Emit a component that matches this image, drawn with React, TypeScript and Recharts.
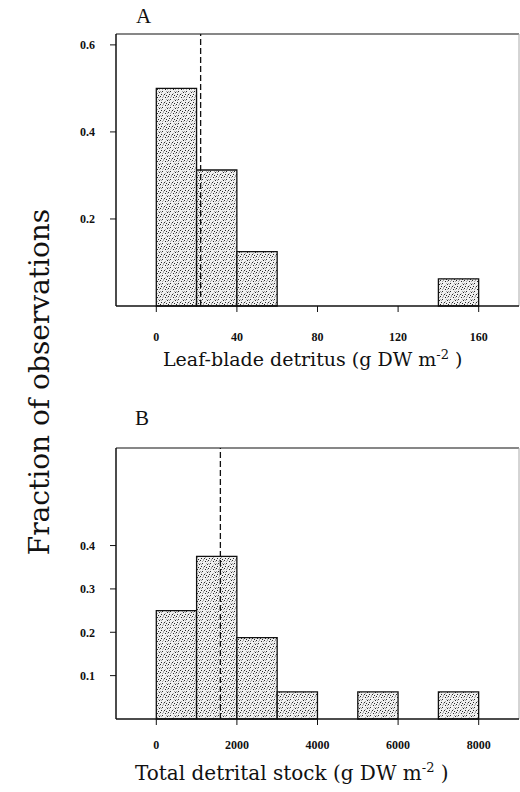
import React from 'react'
import { BarChart, Bar, XAxis, YAxis, ReferenceLine } from 'recharts'

// Panel A: leaf-blade detritus, bins of 20 g DW m-2 (lower edges)
const leafBins = [-20, 0, 20, 40, 60, 80, 100, 120, 140, 160]
const leafFraction = [null, 0.5, 0.3125, 0.125, null, null, null, null, 0.0625, null]
const leafXTicks = [0, 40, 80, 120, 160]
const leafYTicks = [0.2, 0.4, 0.6]
const leafMarker = 22

// Panel B: total detrital stock, bins of 1000 g DW m-2 (lower edges)
const stockBins = [-1000, 0, 1000, 2000, 3000, 4000, 5000, 6000, 7000, 8000]
const stockFraction = [null, 0.25, 0.375, 0.1875, 0.0625, null, 0.0625, null, 0.0625, null]
const stockXTicks = [0, 2000, 4000, 6000, 8000]
const stockYTicks = [0.1, 0.2, 0.3, 0.4]
const stockMarker = 1590

const Y_MAX = 0.625
const CHART_W = 520
const PLOT_LEFT = 116
const PLOT_RIGHT = 1

const tickStyle = { fontFamily: 'Liberation Serif', fontWeight: 700, fontSize: 12, fill: '#111' }
const labelFont = 'DejaVu Serif'

// speckle layout of the 8x8 fill tile
const darkDots = [[0, 0], [5, 1], [2, 3], [7, 4], [4, 6], [1, 6], [6, 7]]
const greyDots = [[3, 0], [6, 3], [1, 4], [5, 5], [7, 1], [2, 1], [3, 7], [0, 3]]

interface PanelProps {
    id: string
    bins: number[]
    values: (number | null)[]
    xTicks: number[]
    yTicks: number[]
    marker: number
    height: number
    top: number
    bottom: number
    xTickMargin: number
}

function Panel({ id, bins, values, xTicks, yTicks, marker, height, top, bottom, xTickMargin }: PanelProps) {
    const step = bins[1] - bins[0]
    const lo = bins[0]
    const hi = bins[bins.length - 1] + step
    const data = bins.map((b, i) => ({ mid: b + step / 2, frac: values[i] }))
    // a hair under the bin width, otherwise recharts shrinks bars to 90%
    const barSize = ((CHART_W - PLOT_LEFT - PLOT_RIGHT) / bins.length) * 0.999
    return (
        <BarChart
            width={CHART_W}
            height={height}
            data={data}
            margin={{ top, right: PLOT_RIGHT, bottom, left: PLOT_LEFT - 60 }}
            barCategoryGap={0}
            barGap={0}
        >
            <defs>
                <pattern id={`stipple-${id}`} width={8} height={8} patternUnits="userSpaceOnUse">
                    <rect width={8} height={8} fill="#f0f0f0" />
                    {darkDots.map(([x, y]) => (
                        <rect key={`d${x}-${y}`} x={x} y={y} width={1} height={1} fill="#2a2a2a" />
                    ))}
                    {greyDots.map(([x, y]) => (
                        <rect key={`g${x}-${y}`} x={x} y={y} width={1} height={1} fill="#a8a8a8" />
                    ))}
                </pattern>
            </defs>
            <XAxis
                dataKey="mid"
                type="number"
                domain={[lo, hi]}
                ticks={xTicks}
                allowDataOverflow
                height={30}
                tick={tickStyle}
                tickSize={6}
                tickMargin={xTickMargin}
                axisLine={{ stroke: '#111', strokeWidth: 1.5 }}
                tickLine={{ stroke: '#111' }}
            />
            <YAxis
                domain={[0, Y_MAX]}
                ticks={yTicks}
                width={60}
                tick={tickStyle}
                tickSize={6}
                tickMargin={15}
                axisLine={{ stroke: '#111', strokeWidth: 1.5 }}
                tickLine={{ stroke: '#111' }}
            />
            <Bar
                dataKey="frac"
                barSize={barSize}
                fill={`url(#stipple-${id})`}
                stroke="#111"
                strokeWidth={1.3}
                isAnimationActive={false}
            />
            <ReferenceLine y={Y_MAX} stroke="#111" strokeWidth={1.2} />
            <ReferenceLine x={hi} stroke="#aaa" strokeWidth={1} />
            <ReferenceLine x={marker} stroke="#111" strokeWidth={1.3} strokeDasharray="6 3" />
        </BarChart>
    )
}

const textBase: React.CSSProperties = {
    position: 'absolute',
    fontFamily: labelFont,
    color: '#111',
    whiteSpace: 'nowrap',
    lineHeight: 1,
}

export default function App() {
    return (
        <div style={{ position: 'absolute', left: 0, top: 0, width: 520, height: 792, background: '#fff' }}>
            <div style={{ position: 'absolute', left: 0, top: 0 }}>
                <Panel
                    id="a"
                    bins={leafBins}
                    values={leafFraction}
                    xTicks={leafXTicks}
                    yTicks={leafYTicks}
                    marker={leafMarker}
                    height={390}
                    top={34}
                    bottom={54}
                    xTickMargin={20}
                />
            </div>
            <div style={{ position: 'absolute', left: 0, top: 400 }}>
                <Panel
                    id="b"
                    bins={stockBins}
                    values={stockFraction}
                    xTicks={stockXTicks}
                    yTicks={stockYTicks}
                    marker={stockMarker}
                    height={392}
                    top={48}
                    bottom={43}
                    xTickMargin={15}
                />
            </div>
            <div style={{ ...textBase, left: 136, top: 6, fontSize: 21, fontFamily: 'Liberation Serif' }}>A</div>
            <div style={{ ...textBase, left: 135, top: 408, fontSize: 21, fontFamily: 'Liberation Serif' }}>B</div>
            <div style={{ ...textBase, left: 163, top: 348, fontSize: 19 }}>
                Leaf-blade detritus (g DW m<sup style={{ fontSize: 13 }}>-2</sup> )
            </div>
            <div style={{ ...textBase, left: 135, top: 761, fontSize: 20 }}>
                Total detrital stock (g DW m<sup style={{ fontSize: 13 }}>-2</sup> )
            </div>
            <div
                style={{
                    ...textBase,
                    left: 40,
                    top: 382,
                    fontSize: 28,
                    transform: 'translate(-50%, -50%) rotate(-90deg)',
                }}
            >
                Fraction of observations
            </div>
        </div>
    )
}
